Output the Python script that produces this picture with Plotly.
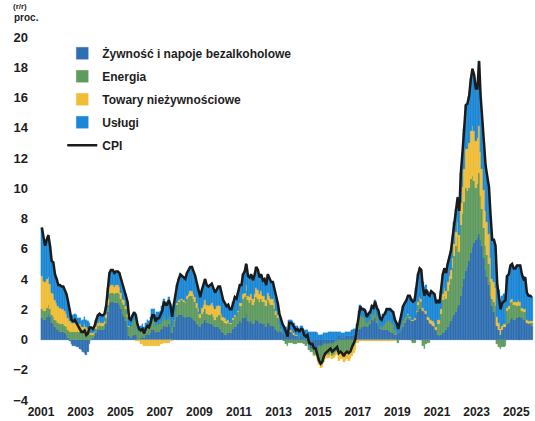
import pandas as pd
import plotly.graph_objects as go

# monthly y/y, Jan 2001 - Oct 2025, contributions in pp
cpi = [
    7.4, 6.6, 6.2, 6.6, 6.9, 6.2, 5.2, 5.1, 4.3, 4.0, 3.6, 3.6,
    3.5, 3.5, 3.3, 3.0, 2.5, 1.9, 1.3, 1.2, 1.3, 1.1, 0.9, 0.8,
    0.5, 0.5, 0.6, 0.3, 0.4, 0.8, 0.8, 0.7, 0.9, 1.3, 1.6, 1.7,
    1.6, 1.6, 1.7, 2.2, 3.4, 4.4, 4.6, 4.6, 4.4, 4.5, 4.5, 4.4,
    4.0, 3.6, 3.4, 3.0, 2.5, 1.4, 1.3, 1.6, 1.8, 1.6, 1.0, 0.7,
    0.6, 0.7, 0.4, 0.7, 0.9, 0.8, 1.1, 1.6, 1.6, 1.2, 1.4, 1.4,
    1.6, 1.9, 2.5, 2.3, 2.3, 2.6, 2.3, 1.5, 2.3, 3.0, 3.6, 4.0,
    4.3, 4.2, 4.1, 4.0, 4.4, 4.6, 4.8, 4.8, 4.5, 4.2, 3.7, 3.3,
    2.8, 3.3, 3.6, 4.0, 3.6, 3.5, 3.6, 3.7, 3.4, 3.1, 3.3, 3.5,
    3.5, 2.9, 2.6, 2.4, 2.2, 2.3, 2.0, 2.0, 2.5, 2.8, 2.7, 3.1,
    3.6, 3.6, 4.3, 4.5, 5.0, 4.2, 4.1, 4.3, 3.9, 4.3, 4.8, 4.6,
    4.1, 4.3, 3.9, 4.0, 3.6, 4.3, 4.0, 3.8, 3.8, 3.4, 2.8, 2.4,
    1.7, 1.3, 1.0, 0.8, 0.5, 0.2, 1.1, 1.1, 1.0, 0.8, 0.6, 0.7,
    0.5, 0.7, 0.7, 0.3, 0.2, 0.3, -0.2, -0.3, -0.3, -0.6, -0.6, -1.0,
    -1.4, -1.6, -1.5, -1.1, -0.9, -0.8, -0.7, -0.6, -0.8, -0.7, -0.6, -0.5,
    -0.9, -0.8, -0.9, -1.1, -0.9, -0.8, -0.9, -0.8, -0.5, -0.2, 0.0, 0.8,
    1.7, 2.2, 2.0, 2.0, 1.9, 1.5, 1.7, 1.8, 2.2, 2.1, 2.5, 2.1,
    1.9, 1.4, 1.3, 1.6, 1.7, 2.0, 2.0, 2.0, 1.9, 1.8, 1.3, 1.1,
    0.7, 1.2, 1.7, 2.2, 2.4, 2.6, 2.9, 2.9, 2.6, 2.5, 2.6, 3.4,
    4.3, 4.7, 4.6, 3.4, 2.9, 3.3, 3.0, 2.9, 3.2, 3.1, 3.0, 2.4,
    2.6, 2.4, 3.2, 4.3, 4.7, 4.4, 5.0, 5.5, 5.9, 6.8, 7.8, 8.6,
    9.4, 8.5, 11.0, 12.4, 13.9, 15.5, 15.6, 16.1, 17.2, 17.9, 17.5, 16.6,
    16.6, 18.4, 16.1, 14.7, 13.0, 11.5, 10.8, 10.1, 8.2, 6.6, 6.6, 6.2,
    3.7, 2.8, 2.0, 2.4, 2.5, 2.6, 4.2, 4.3, 4.9, 5.0, 4.7, 4.7,
    4.9, 4.9, 4.9, 4.3, 4.0, 4.1, 3.1, 2.9, 2.9, 2.8,
]

food = [
    1.4, 1.3, 1.3, 1.5, 1.7, 1.5, 1.1, 1.0, 0.8, 0.7, 0.6, 0.5,
    0.5, 0.5, 0.4, 0.3, 0.1, -0.1, -0.3, -0.4, -0.4, -0.5, -0.5, -0.6,
    -0.7, -0.8, -0.9, -1.0, -0.8, -0.3, 0.0, 0.1, 0.2, 0.4, 0.6, 0.7,
    0.6, 0.6, 0.7, 1.0, 1.8, 2.4, 2.5, 2.5, 2.4, 2.4, 2.4, 2.3,
    2.0, 1.7, 1.5, 1.2, 0.8, 0.2, 0.1, 0.2, 0.3, 0.3, 0.1, 0.0,
    0.1, 0.2, 0.1, 0.3, 0.4, 0.3, 0.4, 0.6, 0.6, 0.4, 0.5, 0.5,
    0.6, 0.7, 0.9, 0.8, 0.8, 1.0, 0.8, 0.4, 0.8, 1.2, 1.5, 1.6,
    1.6, 1.6, 1.5, 1.4, 1.5, 1.5, 1.5, 1.4, 1.3, 1.2, 1.0, 0.9,
    0.8, 1.0, 1.1, 1.3, 1.1, 1.1, 1.0, 1.0, 0.9, 0.8, 0.8, 0.8,
    0.7, 0.5, 0.4, 0.3, 0.3, 0.4, 0.4, 0.4, 0.7, 0.8, 0.8, 1.0,
    1.2, 1.1, 1.4, 1.4, 1.7, 1.2, 1.1, 1.2, 1.0, 1.1, 1.3, 1.2,
    1.0, 1.1, 1.0, 1.0, 0.8, 1.1, 1.0, 0.9, 0.9, 0.8, 0.6, 0.5,
    0.6, 0.5, 0.4, 0.4, 0.3, 0.2, 0.5, 0.5, 0.4, 0.3, 0.2, 0.2,
    0.1, 0.2, 0.2, 0.0, -0.1, -0.1, -0.4, -0.6, -0.6, -0.6, -0.6, -0.6,
    -0.4, -0.4, -0.4, -0.3, -0.3, -0.3, -0.3, -0.2, -0.3, -0.2, -0.1, -0.1,
    0.2, 0.2, 0.1, 0.1, 0.2, 0.2, 0.2, 0.2, 0.2, 0.3, 0.3, 0.4,
    0.6, 0.7, 0.8, 0.8, 0.9, 0.8, 0.9, 1.0, 1.3, 1.2, 1.4, 1.1,
    0.9, 0.7, 0.6, 0.6, 0.6, 0.6, 0.6, 0.5, 0.4, 0.4, 0.3, 0.3,
    0.4, 0.5, 0.6, 0.8, 1.1, 1.3, 1.4, 1.3, 1.2, 1.2, 1.3, 1.6,
    1.8, 2.0, 2.0, 1.9, 1.8, 1.7, 1.3, 1.1, 1.0, 0.9, 0.8, 0.6,
    0.3, 0.2, 0.3, 0.4, 0.5, 0.6, 0.8, 1.0, 1.2, 1.4, 1.6, 1.8,
    2.1, 2.3, 2.9, 3.5, 4.0, 4.5, 4.8, 5.2, 5.7, 6.1, 6.4, 6.6,
    6.7, 7.0, 6.6, 6.2, 5.4, 4.6, 4.1, 3.6, 2.9, 2.2, 1.8, 1.5,
    0.9, 0.6, 0.3, 0.6, 0.8, 0.8, 1.0, 1.1, 1.3, 1.4, 1.3, 1.3,
    1.4, 1.5, 1.5, 1.4, 1.3, 1.3, 1.1, 1.0, 1.0, 0.9,
]

energy = [
    0.6, 0.6, 0.6, 0.6, 0.6, 0.5, 0.5, 0.5, 0.5, 0.5, 0.5, 0.5,
    0.5, 0.5, 0.5, 0.5, 0.5, 0.5, 0.5, 0.5, 0.5, 0.5, 0.5, 0.5,
    0.6, 0.6, 0.7, 0.6, 0.5, 0.4, 0.3, 0.2, 0.2, 0.3, 0.3, 0.3,
    0.3, 0.3, 0.3, 0.4, 0.5, 0.6, 0.6, 0.6, 0.6, 0.7, 0.7, 0.7,
    0.7, 0.7, 0.8, 0.8, 0.7, 0.6, 0.7, 0.9, 1.0, 0.9, 0.6, 0.5,
    0.5, 0.5, 0.4, 0.4, 0.5, 0.5, 0.6, 0.8, 0.7, 0.5, 0.5, 0.5,
    0.4, 0.5, 0.6, 0.5, 0.5, 0.5, 0.5, 0.4, 0.5, 0.6, 0.8, 0.9,
    1.0, 1.0, 1.0, 1.0, 1.2, 1.3, 1.4, 1.5, 1.4, 1.3, 1.1, 0.9,
    0.6, 0.7, 0.7, 0.7, 0.6, 0.5, 0.6, 0.7, 0.6, 0.5, 0.7, 0.8,
    0.9, 0.8, 0.8, 0.8, 0.7, 0.7, 0.6, 0.6, 0.6, 0.7, 0.7, 0.8,
    1.0, 1.1, 1.3, 1.4, 1.5, 1.4, 1.3, 1.4, 1.3, 1.4, 1.5, 1.5,
    1.5, 1.6, 1.5, 1.5, 1.4, 1.5, 1.4, 1.4, 1.4, 1.2, 1.0, 0.9,
    0.4, 0.2, 0.0, -0.1, -0.3, -0.4, -0.2, -0.2, -0.2, -0.3, -0.3, -0.2,
    -0.2, -0.2, -0.2, -0.3, -0.3, -0.2, -0.3, -0.2, -0.2, -0.4, -0.4, -0.7,
    -1.1, -1.3, -1.2, -1.0, -0.8, -0.7, -0.7, -0.7, -0.8, -0.8, -0.8, -0.7,
    -0.9, -0.8, -0.8, -0.9, -0.8, -0.8, -0.8, -0.7, -0.6, -0.4, -0.3, 0.1,
    0.7, 0.9, 0.7, 0.7, 0.5, 0.3, 0.3, 0.3, 0.4, 0.4, 0.5, 0.4,
    0.3, 0.1, 0.1, 0.3, 0.4, 0.6, 0.6, 0.7, 0.7, 0.6, 0.3, 0.1,
    -0.2, 0.0, 0.3, 0.4, 0.3, 0.2, 0.2, 0.1, -0.1, -0.2, -0.2, 0.2,
    0.5, 0.6, 0.5, -0.4, -0.6, -0.3, -0.2, -0.2, 0.0, 0.0, 0.0, 0.0,
    0.7, 0.8, 1.4, 2.2, 2.4, 2.1, 2.4, 2.6, 2.8, 3.3, 3.9, 4.4,
    4.7, 3.5, 4.7, 4.8, 5.1, 5.5, 5.0, 4.8, 4.9, 4.7, 4.1, 3.4,
    3.6, 4.0, 2.9, 2.4, 2.0, 1.6, 1.5, 1.4, 0.9, 0.5, 0.7, 0.7,
    -0.3, -0.5, -0.6, -0.5, -0.5, -0.4, 0.9, 0.9, 1.1, 1.1, 1.0, 1.0,
    0.8, 0.8, 0.7, 0.5, 0.5, 0.5, 0.0, 0.0, 0.1, 0.2,
]

goods = [
    2.2, 2.0, 1.9, 1.9, 1.8, 1.7, 1.5, 1.5, 1.3, 1.2, 1.1, 1.1,
    1.0, 1.0, 1.0, 0.9, 0.8, 0.7, 0.6, 0.6, 0.6, 0.5, 0.5, 0.5,
    0.2, 0.2, 0.3, 0.2, 0.2, 0.2, 0.1, 0.1, 0.1, 0.2, 0.2, 0.2,
    0.2, 0.2, 0.2, 0.3, 0.4, 0.5, 0.5, 0.5, 0.5, 0.5, 0.5, 0.5,
    0.4, 0.3, 0.3, 0.2, 0.2, 0.1, 0.0, 0.0, 0.0, -0.1, -0.1, -0.1,
    -0.3, -0.3, -0.4, -0.4, -0.4, -0.4, -0.4, -0.4, -0.4, -0.4, -0.4, -0.4,
    -0.3, -0.3, -0.2, -0.2, -0.2, -0.2, -0.1, -0.1, 0.0, 0.0, 0.1, 0.1,
    0.1, 0.1, 0.1, 0.1, 0.2, 0.2, 0.3, 0.3, 0.3, 0.3, 0.3, 0.3,
    0.3, 0.4, 0.5, 0.6, 0.6, 0.6, 0.7, 0.7, 0.7, 0.7, 0.7, 0.7,
    0.6, 0.4, 0.3, 0.3, 0.2, 0.2, 0.1, 0.1, 0.1, 0.1, 0.0, 0.1,
    0.2, 0.2, 0.3, 0.3, 0.4, 0.3, 0.4, 0.4, 0.4, 0.5, 0.6, 0.6,
    0.5, 0.5, 0.4, 0.4, 0.4, 0.5, 0.5, 0.4, 0.4, 0.4, 0.3, 0.2,
    0.0, 0.0, 0.0, 0.0, 0.0, 0.0, 0.1, 0.1, 0.1, 0.1, 0.1, 0.1,
    0.0, 0.0, 0.0, 0.0, 0.0, 0.0, 0.0, 0.0, 0.0, -0.1, -0.1, -0.1,
    -0.2, -0.2, -0.2, -0.2, -0.2, -0.2, -0.2, -0.2, -0.2, -0.2, -0.2, -0.2,
    -0.5, -0.5, -0.5, -0.6, -0.6, -0.5, -0.6, -0.6, -0.5, -0.5, -0.4, -0.2,
    -0.2, -0.1, -0.1, -0.1, -0.1, -0.1, -0.1, -0.1, -0.1, -0.1, -0.1, -0.1,
    -0.1, -0.1, -0.1, -0.1, -0.1, -0.1, -0.1, -0.1, -0.1, -0.1, -0.1, 0.0,
    0.0, 0.0, 0.0, 0.0, 0.0, 0.0, 0.1, 0.1, 0.1, 0.1, 0.1, 0.1,
    0.2, 0.2, 0.2, 0.2, 0.1, 0.2, 0.2, 0.3, 0.3, 0.3, 0.3, 0.2,
    0.3, 0.3, 0.3, 0.4, 0.5, 0.5, 0.6, 0.6, 0.6, 0.7, 0.8, 0.9,
    1.0, 1.1, 1.4, 1.8, 2.2, 2.6, 2.8, 3.0, 3.2, 3.3, 3.3, 3.1,
    3.0, 3.1, 2.9, 2.7, 2.5, 2.3, 2.2, 2.0, 1.6, 1.3, 1.3, 1.2,
    0.6, 0.5, 0.4, 0.3, 0.2, 0.2, 0.2, 0.2, 0.2, 0.2, 0.2, 0.2,
    0.3, 0.3, 0.3, 0.2, 0.2, 0.2, 0.2, 0.2, 0.1, 0.1,
]

services = [
    3.2, 2.7, 2.4, 2.6, 2.8, 2.5, 2.1, 2.1, 1.7, 1.6, 1.4, 1.5,
    1.5, 1.5, 1.4, 1.3, 1.1, 0.8, 0.5, 0.5, 0.6, 0.6, 0.4, 0.4,
    0.4, 0.5, 0.5, 0.5, 0.5, 0.5, 0.4, 0.3, 0.4, 0.4, 0.5, 0.5,
    0.5, 0.5, 0.5, 0.5, 0.7, 0.9, 1.0, 1.0, 0.9, 0.9, 0.9, 0.9,
    0.9, 0.9, 0.8, 0.8, 0.8, 0.5, 0.5, 0.5, 0.5, 0.5, 0.4, 0.3,
    0.3, 0.3, 0.3, 0.4, 0.4, 0.4, 0.5, 0.6, 0.7, 0.7, 0.8, 0.8,
    0.9, 1.0, 1.2, 1.2, 1.2, 1.3, 1.1, 0.8, 1.0, 1.2, 1.2, 1.4,
    1.6, 1.5, 1.5, 1.5, 1.5, 1.6, 1.6, 1.6, 1.5, 1.4, 1.3, 1.2,
    1.1, 1.2, 1.3, 1.4, 1.3, 1.3, 1.3, 1.3, 1.2, 1.1, 1.1, 1.2,
    1.3, 1.2, 1.1, 1.0, 1.0, 1.0, 0.9, 0.9, 1.1, 1.2, 1.2, 1.2,
    1.2, 1.2, 1.3, 1.4, 1.4, 1.3, 1.3, 1.3, 1.2, 1.3, 1.4, 1.3,
    1.1, 1.1, 1.0, 1.1, 1.0, 1.2, 1.1, 1.1, 1.1, 1.0, 0.9, 0.8,
    0.7, 0.6, 0.6, 0.5, 0.5, 0.4, 0.7, 0.7, 0.7, 0.7, 0.6, 0.6,
    0.6, 0.7, 0.7, 0.6, 0.6, 0.6, 0.5, 0.5, 0.5, 0.5, 0.5, 0.4,
    0.3, 0.3, 0.3, 0.4, 0.4, 0.4, 0.5, 0.5, 0.5, 0.5, 0.5, 0.5,
    0.3, 0.3, 0.3, 0.3, 0.3, 0.3, 0.3, 0.3, 0.4, 0.4, 0.4, 0.5,
    0.6, 0.7, 0.6, 0.6, 0.6, 0.5, 0.6, 0.6, 0.6, 0.6, 0.7, 0.7,
    0.8, 0.7, 0.7, 0.8, 0.8, 0.9, 0.9, 0.9, 0.9, 0.9, 0.8, 0.7,
    0.5, 0.7, 0.8, 1.0, 1.0, 1.1, 1.2, 1.4, 1.4, 1.4, 1.4, 1.5,
    1.8, 1.9, 1.9, 1.7, 1.6, 1.7, 1.7, 1.7, 1.9, 1.9, 1.9, 1.6,
    1.3, 1.1, 1.2, 1.3, 1.3, 1.2, 1.2, 1.3, 1.3, 1.4, 1.5, 1.5,
    1.6, 1.6, 2.0, 2.3, 2.6, 2.9, 3.0, 3.1, 3.4, 3.8, 3.7, 3.5,
    3.3, 4.3, 3.7, 3.4, 3.1, 3.0, 3.0, 3.1, 2.8, 2.6, 2.8, 2.8,
    2.5, 2.2, 1.9, 2.0, 2.0, 2.0, 2.1, 2.1, 2.3, 2.3, 2.2, 2.2,
    2.4, 2.3, 2.4, 2.2, 2.0, 2.1, 1.8, 1.7, 1.7, 1.6,
]

year_ticks = ["2001", "2003", "2005", "2007", "2009", "2011", "2013",
              "2015", "2017", "2019", "2021", "2023", "2025"]

months = pd.date_range("2001-01-01", periods=len(cpi), freq="MS") + pd.Timedelta(days=15)
bar_w = 31 * 24 * 3600 * 1000

series = [
    ("Żywność i napoje bezalkoholowe", food, "#2f6fb0"),
    ("Energia", energy, "#5f9a5e"),
    ("Towary nieżywnościowe", goods, "#f0bd36"),
    ("Usługi", services, "#1a87d6"),
]

fig = go.Figure()
for name, vals, col in series:
    fig.add_trace(go.Bar(x=months, y=vals, name=name, width=bar_w,
                         marker=dict(color=col, line=dict(color=col, width=0.3)),
                         legendgroup=name))
fig.add_trace(go.Scatter(x=months, y=cpi, name="CPI", mode="lines",
                         line=dict(color="#1b1b1b", width=2.5), legendgroup="CPI"))

fig.update_layout(
    width=535, height=421,
    margin=dict(l=40, r=0, t=37, b=21, autoexpand=False),
    barmode="relative", bargap=0,
    plot_bgcolor="white", paper_bgcolor="white",
    font=dict(family="Liberation Sans, Arial", size=12, color="#1e1e1e"),
    legend=dict(x=0.045, y=0.995, xanchor="left", yanchor="top",
                bgcolor="rgba(0,0,0,0)", tracegroupgap=4,
                font=dict(size=12, weight="bold")),
)
fig.add_annotation(text="<b>proc.</b>", xref="paper", yref="paper",
                   x=-0.057, y=1.055, xanchor="left", yanchor="middle",
                   showarrow=False, font=dict(size=10))
fig.add_annotation(text="<b>(r/r)</b>", xref="paper", yref="paper",
                   x=-0.057, y=1.1, xanchor="left", yanchor="top",
                   showarrow=False, font=dict(size=8), borderpad=0)

fig.update_xaxes(range=["2000-12-13", "2025-12-13"],
                 tickvals=[pd.Timestamp(y + "-01-01") for y in year_ticks],
                 ticktext=year_ticks, showgrid=False, showline=False, ticks="",
                 ticklabelstandoff=3, automargin=False,
                 tickfont=dict(size=12, weight="bold"))
fig.update_yaxes(range=[-4, 20], dtick=2, showgrid=False, zeroline=False,
                 showline=False, ticks="", ticklabelstandoff=11, automargin=False,
                 tickfont=dict(size=13, weight="bold"))

# page body has a default 8px margin; drop it so the figure fills the window
fig.write_html("out.html", config={"displayModeBar": False},
               post_script="document.body.style.margin='0px';")
